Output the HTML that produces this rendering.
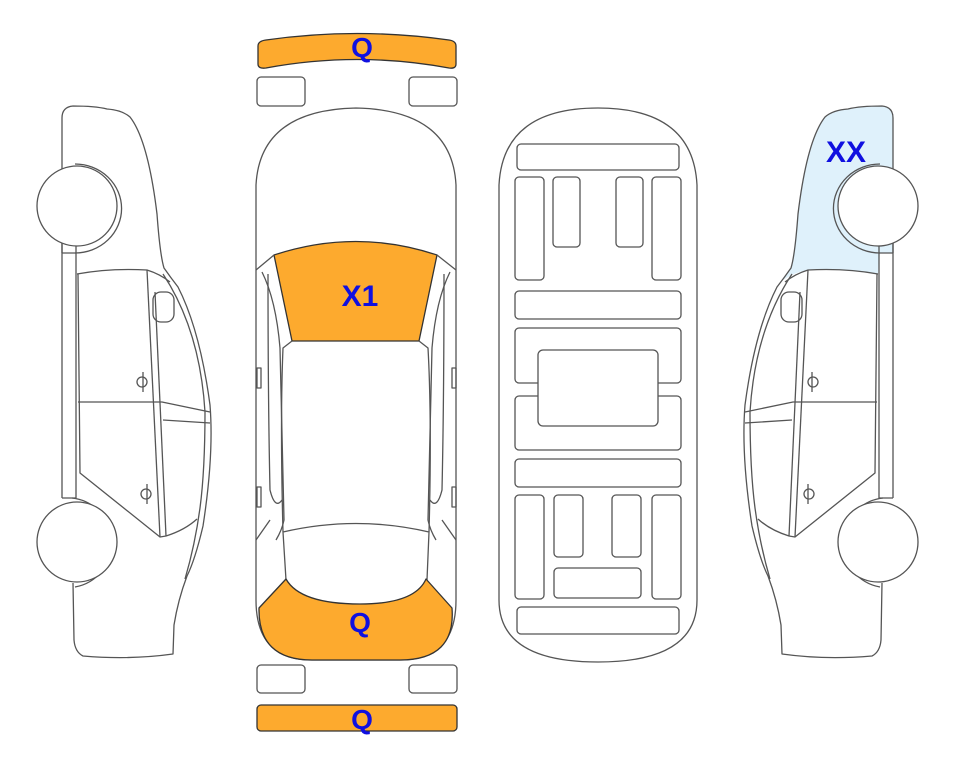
<!DOCTYPE html>
<html><head><meta charset="utf-8"><style>
html,body{margin:0;padding:0;background:#fff;}
svg{display:block;}
text{font-family:"Liberation Sans",Arial,sans-serif;font-weight:bold;fill:#1010e0;}
</style></head><body>
<svg width="963" height="768" viewBox="0 0 963 768" xmlns="http://www.w3.org/2000/svg">
<defs>
<g id="car" fill="none" stroke="#555" stroke-width="1.3" stroke-linejoin="round">
  <path d="M62,253 L62,118 Q62,107 73,106 Q95,106 107,109 Q122,110 130,117 Q148,140 157,214 Q160,255 164,268 Q171,278 178,287 Q200,330 210,405 Q214,455 203,526 Q195,560 187,576 Q178,600 174,625 L173,654 Q130,660 83,656 Q75,652 74,640 L73,583"/>
  <path d="M62,240 L62,498 M76,246 L76,498 M62,253 L76,253 M62,498 L76,498"/>
  <path d="M77,274 Q110,268 147,270 Q160,274 170,282"/>
  <path d="M147,270 L160,537"/>
  <path d="M155,292 L166,536"/>
  <path d="M78,274 L80,473 L160,537 L166,536 Q185,530 197,519"/>
  <path d="M78,402 L162,402 L210,412 M163,420 L210,423"/>
  <path d="M163,274 Q200,330 205,412 Q205,470 200,508 Q195,545 185,579"/>
  <rect x="153" y="292" width="21" height="30" rx="8"/>
  <path d="M143,372 L143,392 M147,484 L147,504"/>
  <circle cx="142" cy="382" r="5"/>
  <circle cx="146" cy="494" r="5"/>
  <path d="M75,164 A45,43 0 0 1 75,253" />
  <circle cx="77" cy="206" r="40" fill="#fff"/>
  <path d="M72,498 A45,45 0 0 1 75,587" />
  <circle cx="77" cy="542" r="40" fill="#fff"/>
</g>
</defs>

<use href="#car"/>

<g transform="translate(955,0) scale(-1,1)">
  <path d="M62,253 L62,118 Q62,107 73,106 Q95,106 107,109 Q122,110 130,117 Q148,140 157,214 Q160,255 164,268 Q168,274 172,280 Q160,272 147,270 Q110,268 77,274 L76,253 Z" fill="#dff1fb" stroke="none"/>
  <use href="#car"/>
</g>

<g fill="none" stroke="#555" stroke-width="1.3" stroke-linejoin="round">
  <path d="M258,46 Q258,41 266,40 Q357,27 449,40 Q456,41 456,46 L456,64 Q456,69 449,68 Q357,51 266,68 Q258,69 258,64 Z" fill="#fdaa2e" stroke="#333"/>
  <rect x="257" y="77" width="48" height="29" rx="4"/>
  <rect x="409" y="77" width="48" height="29" rx="4"/>
  <rect x="257" y="665" width="48" height="28" rx="4"/>
  <rect x="409" y="665" width="48" height="28" rx="4"/>
  <rect x="257" y="705" width="200" height="26" rx="4" fill="#fdaa2e" stroke="#333"/>

  <path d="M256,600 L256,185 Q260,110 356,108 Q452,110 456,185 L456,600 Q456,660 400,660 L312,660 Q256,660 256,600 Z"/>
  <path d="M274,255 Q356,228 437,255 L419,341 L292,341 Z" fill="#fdaa2e" stroke="#333"/>
  <path d="M256,270 L274,255 M456,270 L437,255"/>
  <path d="M292,341 L283,348 Q280,420 283,532 M419,341 L428,348 Q432,420 429,532"/>
  <path d="M262,272 Q276,300 280,348 L284,520 Q282,530 276,540 M450,272 Q436,300 432,348 L428,520 Q430,530 436,540"/>
  <path d="M268,274 Q268,400 270,490 Q275,510 282,500 M444,274 Q444,400 442,490 Q437,510 430,500"/>
  <path d="M283,532 Q356,515 429,532 L427,580 M283,532 L286,580"/>
  <path d="M256,540 L270,520 M456,540 L442,520"/>
  <rect x="257" y="368" width="4" height="20"/><rect x="452" y="368" width="4" height="20"/>
  <rect x="257" y="487" width="4" height="20"/><rect x="452" y="487" width="4" height="20"/>
  <path d="M286,579 Q300,604 360,604 Q415,604 426,579 L452,608 Q456,660 400,660 L312,660 Q258,660 259,608 Z" fill="#fdaa2e" stroke="#333"/>
</g>

<g fill="none" stroke="#555" stroke-width="1.3">
  <path d="M499,600 L499,185 Q503,108 598,108 Q693,108 697,185 L697,600 Q697,662 598,662 Q499,662 499,600 Z"/>
  <rect x="517" y="144" width="162" height="26" rx="4"/>
  <rect x="515" y="177" width="29" height="103" rx="4"/>
  <rect x="553" y="177" width="27" height="70" rx="4"/>
  <rect x="616" y="177" width="27" height="70" rx="4"/>
  <rect x="652" y="177" width="29" height="103" rx="4"/>
  <rect x="515" y="291" width="166" height="28" rx="4"/>
  <rect x="515" y="328" width="166" height="55" rx="4"/>
  <rect x="515" y="396" width="166" height="54" rx="4"/>
  <rect x="538" y="350" width="120" height="76" rx="5" fill="#fff"/>
  <rect x="515" y="459" width="166" height="28" rx="4"/>
  <rect x="515" y="495" width="29" height="104" rx="4"/>
  <rect x="554" y="495" width="29" height="62" rx="4"/>
  <rect x="612" y="495" width="29" height="62" rx="4"/>
  <rect x="652" y="495" width="29" height="104" rx="4"/>
  <rect x="554" y="568" width="87" height="30" rx="4"/>
  <rect x="517" y="607" width="162" height="27" rx="4"/>
</g>

<text x="362" y="57" font-size="28" text-anchor="middle">Q</text>
<text x="360" y="306" font-size="30" text-anchor="middle">X1</text>
<text x="360" y="632" font-size="28" text-anchor="middle">Q</text>
<text x="362" y="729" font-size="28" text-anchor="middle">Q</text>
<text x="846" y="162" font-size="30" text-anchor="middle">XX</text>
</svg>
</body></html>
